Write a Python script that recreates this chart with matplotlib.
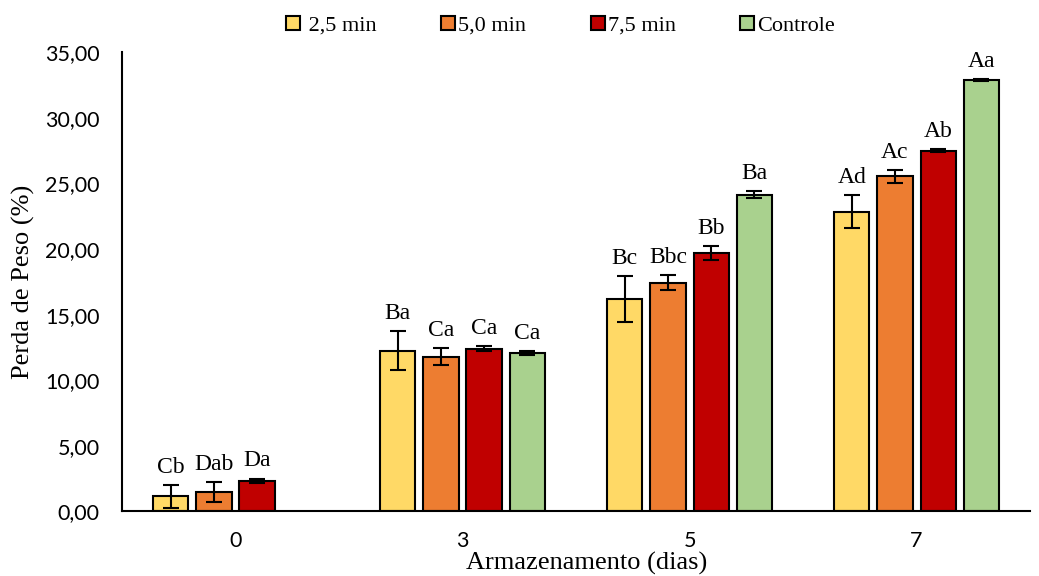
import numpy as np
import matplotlib.pyplot as plt

# ----------------------------------------------------------
# Data
# ----------------------------------------------------------
dias = ['0', '3', '5', '7']
series = [' 2,5 min', '5,0 min', '7,5 min', 'Controle']
colors = ['#FFD966', '#ED7D31', '#C00000', '#A9D18E']

v25 = [1.15, 12.25, 16.2, 22.85]
v50 = [1.50, 11.80, 17.45, 25.55]
v75 = [2.35, 12.40, 19.70, 27.50]
vct = [np.nan, 12.05, 24.15, 32.90]

e25 = [0.85, 1.50, 1.75, 1.25]
e50 = [0.75, 0.65, 0.55, 0.50]
e75 = [0.15, 0.18, 0.55, 0.10]
ect = [np.nan, 0.15, 0.25, 0.08]

l25 = ['Cb', 'Ba', 'Bc', 'Ad']
l50 = ['Dab', 'Ca', 'Bbc', 'Ac']
l75 = ['Da', 'Ca', 'Bb', 'Ab']
lct = ['', 'Ca', 'Ba', 'Aa']

values = [v25, v50, v75, vct]
errors = [e25, e50, e75, ect]
letters = [l25, l50, l75, lct]

plt.rcParams['font.family'] = ['Liberation Serif', 'DejaVu Serif']

fig = plt.figure(figsize=(10.39, 5.76), dpi=100)
ax = fig.add_axes([0.1174, 0.112, 0.874, 0.797])

x = np.arange(len(dias))
w = 0.155
step = 0.19
for i, (vals, errs, labs) in enumerate(zip(values, errors, letters)):
    pos = x + (i - 1.5) * step
    ax.bar(pos, vals, w, color=colors[i], edgecolor='black', linewidth=1.5,
           label=series[i], zorder=2)
    ax.errorbar(pos, vals, yerr=errs, fmt='none', ecolor='black',
                elinewidth=1.5, capsize=6, capthick=1.5, zorder=3)
    for p, v, e, t in zip(pos, vals, errs, labs):
        if t and not np.isnan(v):
            ax.text(p, v + e + 0.55, t, ha='center', va='bottom', fontsize=17)

ax.set_xlim(-0.5, 3.5)
ax.set_ylim(0, 35)
ax.set_yticks(np.arange(0, 36, 5))
ax.set_yticklabels([f'{t:.2f}'.replace('.', ',') for t in np.arange(0, 36, 5)],
                   family='Lato', fontsize=15.5)
ax.set_xticks(x)
ax.set_xticklabels(dias, family='Lato', fontsize=15.5)
ax.tick_params(axis='y', length=0, pad=16)
ax.tick_params(axis='x', length=0, pad=14)

for s in ['top', 'right']:
    ax.spines[s].set_visible(False)
ax.spines['left'].set_linewidth(1.5)
ax.spines['bottom'].set_linewidth(1.5)

ax.set_ylabel('Perda de Peso (%)', fontsize=19, labelpad=7)
ax.set_xlabel('Armazenamento (dias)', fontsize=19, va='top')
ax.xaxis.set_label_coords(0.512, -0.089)

ax.legend(loc='lower center', bbox_to_anchor=(0.483, 1.0), ncol=4, frameon=False,
          fontsize=16, handlelength=0.62, handleheight=0.62, handletextpad=0.15,
          columnspacing=2.9, borderaxespad=0.35)

plt.savefig('out.png', dpi=100)
